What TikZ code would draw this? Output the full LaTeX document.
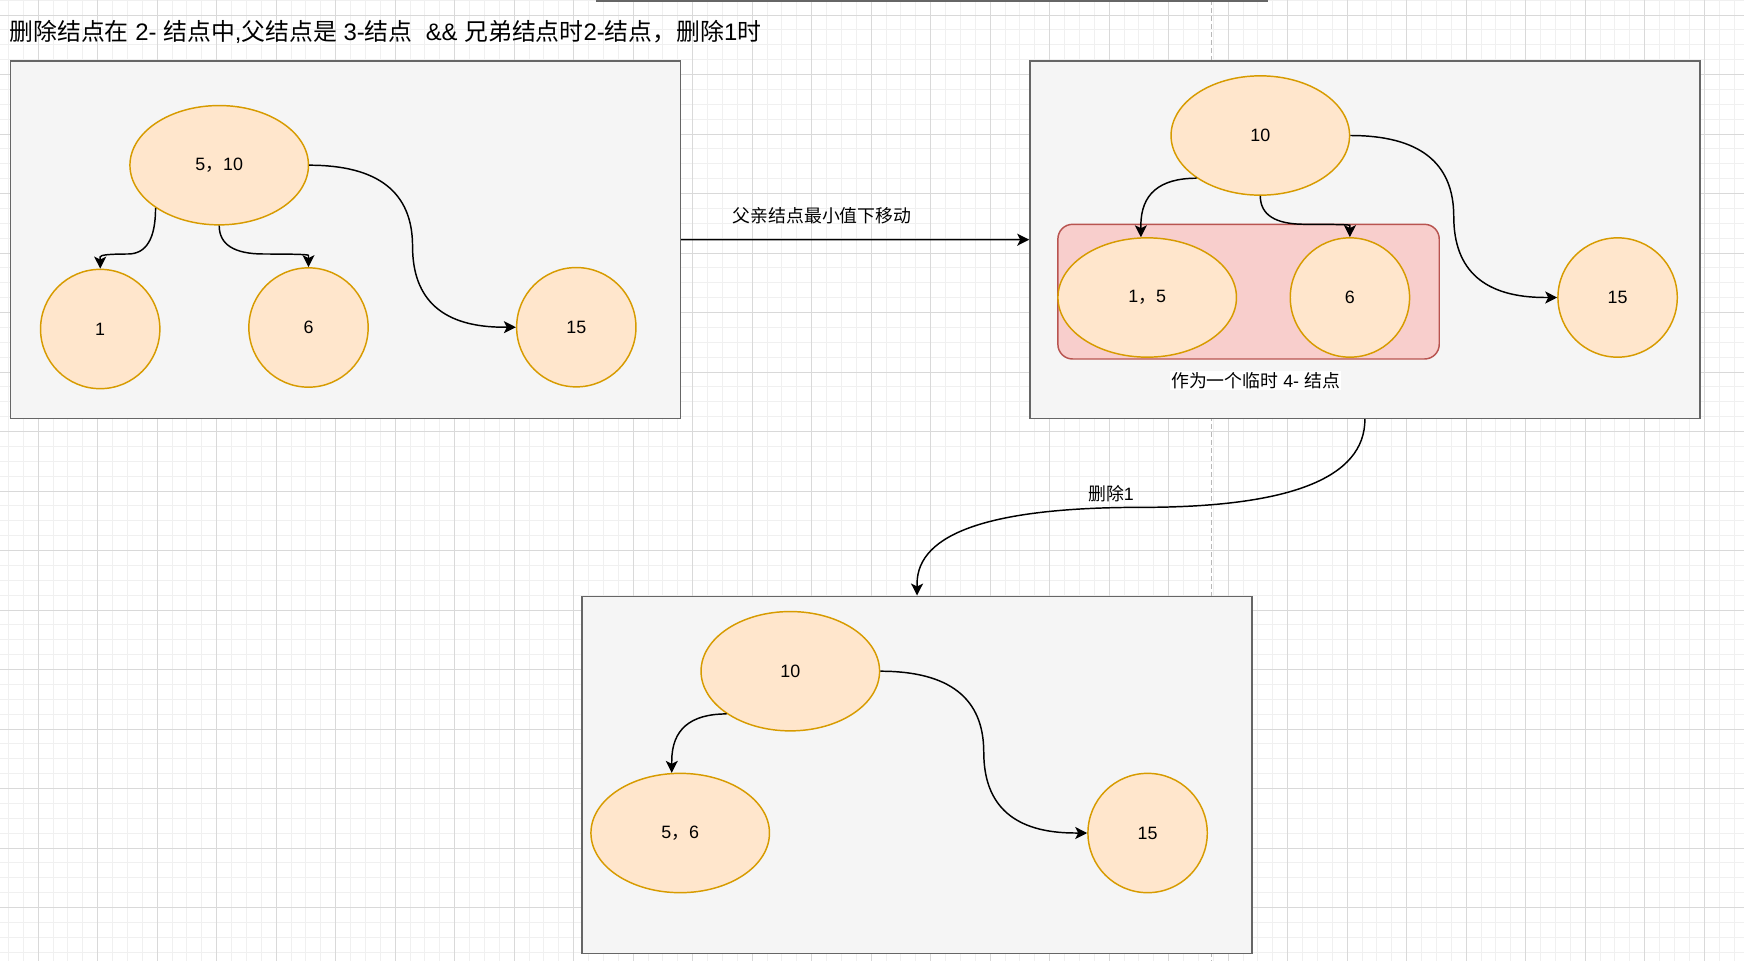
\documentclass[tikz,border=0pt]{standalone}
\usepackage{fontspec}
\setmainfont{Liberation Sans}
\newfontfamily\cjkfont{Noto Sans CJK SC}
\newcommand\cjkt[1]{{\cjkfont #1}}
\usetikzlibrary{calc,arrows.meta,shapes.geometric}
\definecolor{boxfill}{HTML}{F5F5F5}
\definecolor{boxline}{HTML}{666666}
\definecolor{ofill}{HTML}{FFE6CC}
\definecolor{oline}{HTML}{D79B00}
\definecolor{rfill}{HTML}{F8CECC}
\definecolor{rline}{HTML}{B85450}
\definecolor{gmajor}{HTML}{D9D9D9}
\definecolor{gminor}{HTML}{F0F0F0}
\definecolor{dashc}{HTML}{B8B8B8}
\tikzset{
  conn/.style={draw=black, line width=1.1pt, -{Stealth[length=9pt,width=9pt,inset=2.2pt]}},
  panel/.style={rectangle, draw=boxline, fill=boxfill, line width=1.2pt, minimum width=502.3pt, minimum height=268pt, inner sep=0pt},
  oval/.style={ellipse, draw=oline, fill=ofill, line width=1.1pt, minimum width=133.9pt, minimum height=89.5pt, inner sep=0pt, font=\fontsize{13.4pt}{16pt}\selectfont},
  disc/.style={circle, draw=oline, fill=ofill, line width=1.1pt, minimum size=89.5pt, inner sep=0pt, font=\fontsize{13.4pt}{16pt}\selectfont},
  lbl/.style={inner sep=0.8pt, font=\fontsize{13.4pt}{16pt}\selectfont},
}
\newcommand\twoturn[4]{%
  \path (#1) coordinate (eS) (#2) coordinate (eA) (#3) coordinate (eB) (#4) coordinate (eT);
  \path ($(eA)!.5!(eB)$) coordinate (eM) ($(eT)!8.8pt!(eB)$) coordinate (eE);
  \draw[conn] (eS) .. controls ($(eS)!2/3!(eA)$) and ($(eM)!2/3!(eA)$) .. (eM)
     .. controls ($(eM)!2/3!(eB)$) and ($(eE)!2/3!(eB)$) .. (eE) -- (eT);
}
\newcommand\oneturn[3]{%
  \path (#1) coordinate (eS) (#2) coordinate (eA) (#3) coordinate (eT);
  \path ($(eT)!8.8pt!(eA)$) coordinate (eE);
  \draw[conn] (eS) .. controls ($(eS)!2/3!(eA)$) and ($(eE)!2/3!(eA)$) .. (eE) -- (eT);
}
\begin{document}
\begin{tikzpicture}[x=0.75pt, y=-0.75pt]
\useasboundingbox (0,0) rectangle (1744,961);
\fill[white] (0,0) rectangle (1744,961);
% grid
\foreach \i in {0,...,118} { \draw[gminor, line width=0.75pt] ({-6.4+\i*14.875},0) -- ({-6.4+\i*14.875},961); }
\foreach \i in {0,...,64} { \draw[gminor, line width=0.75pt] (0,{0.125+\i*14.875}) -- (1744,{0.125+\i*14.875}); }
\foreach \i in {-1,...,29} { \draw[gmajor, line width=0.75pt] ({38.2+\i*59.5},0) -- ({38.2+\i*59.5},961); }
\foreach \i in {0,...,16} { \draw[gmajor, line width=0.75pt] (0,{15+\i*59.5}) -- (1744,{15+\i*59.5}); }
% dashed guide
\draw[dashc, line width=1.1pt, dash pattern=on 3.5pt off 2.5pt] (1211.7,0) -- (1211.7,961);
% top box (cut off)
\draw[draw=boxline, fill=boxfill, line width=1.2pt] (597,-40) rectangle (1267,1.2);
% title
\node[anchor=west, inner sep=0pt, font=\fontsize{17.9pt}{21pt}\selectfont] (title) at (9.2,31.5)
  {\cjkt{删除结点在} 2- \cjkt{结点中},\cjkt{父结点是} 3-\cjkt{结点}\ \ \&\& \cjkt{兄弟结点时}2-\cjkt{结点，删除}1\cjkt{时}};
% panels
\node[panel] (boxA) at (345.55,239.65) {};
\node[panel] (boxB) at (1364.9,239.7) {};
\node[panel] (boxC) at (917.05,775) {};
% panel A
\node[oval] (n510) at (219.2,165.2) {5\cjkt{，}10};
\node[disc] (n1) at (100.2,329) {1};
\node[disc] (n6a) at (308.5,327.5) {6};
\node[disc] (n15a) at (576.3,327.2) {15};
% panel B
\node[rectangle, rounded corners=11pt, draw=rline, fill=rfill, line width=1.1pt, minimum width=286pt, minimum height=101pt] (tmp) at (1248.55,291.65) {};
\node[oval] (n10b) at (1260.3,135.5) {10};
\node[oval] (n15b) at (1147.2,297.5) {1\cjkt{，}5};
\node[disc] (n6b) at (1349.9,297.5) {6};
\node[disc] (n15c) at (1617.6,297.5) {15};
\node[lbl, fill=white] (lab3) at (1255.5,380.5) {\cjkt{作为一个临时} 4- \cjkt{结点}};
% panel C
\node[oval] (n10c) at (790.3,671.2) {10};
\node[oval] (n56) at (680.2,833) {5\cjkt{，}6};
\node[disc] (n15d) at (1147.6,833) {15};
% levels
\coordinate (yA) at (0,254);
\coordinate (yB) at (0,224.3);
\coordinate (xA) at ($(n510.east)!.5!(n15a.west)$);
\coordinate (xB) at ($(n10b.east)!.5!(n15c.west)$);
\coordinate (xC) at ($(n10c.east)!.5!(n15d.west)$);
\coordinate (yBC) at ($(boxB.south)!.5!(boxC.north)$);
% edges panel A
\twoturn{n510.south west}{n510.south west |- yA}{n1.north |- yA}{n1.north}
\twoturn{n510.south}{n510.south |- yA}{n6a.north |- yA}{n6a.north}
\twoturn{n510.east}{xA |- n510.east}{xA |- n15a.west}{n15a.west}
% edges panel B
\oneturn{n10b.south west}{n15b.96 |- n10b.south west}{n15b.96}
\twoturn{n10b.south}{n10b.south |- yB}{n6b.north |- yB}{n6b.north}
\twoturn{n10b.east}{xB |- n10b.east}{xB |- n15c.west}{n15c.west}
% edges panel C
\oneturn{n10c.south west}{n56.98 |- n10c.south west}{n56.98}
\twoturn{n10c.east}{xC |- n10c.east}{xC |- n15d.west}{n15d.west}
% between panels
\draw[conn] (boxA.east) -- (boxB.west);
\twoturn{boxB.south}{boxB.south |- yBC}{boxC.north |- yBC}{boxC.north}
\node[lbl] (lab1) at (822,215.5) {\cjkt{父亲结点最小值下移动}};
\node[lbl] (lab2) at (1111,493.3) {\cjkt{删除}1};
\end{tikzpicture}
\end{document}
